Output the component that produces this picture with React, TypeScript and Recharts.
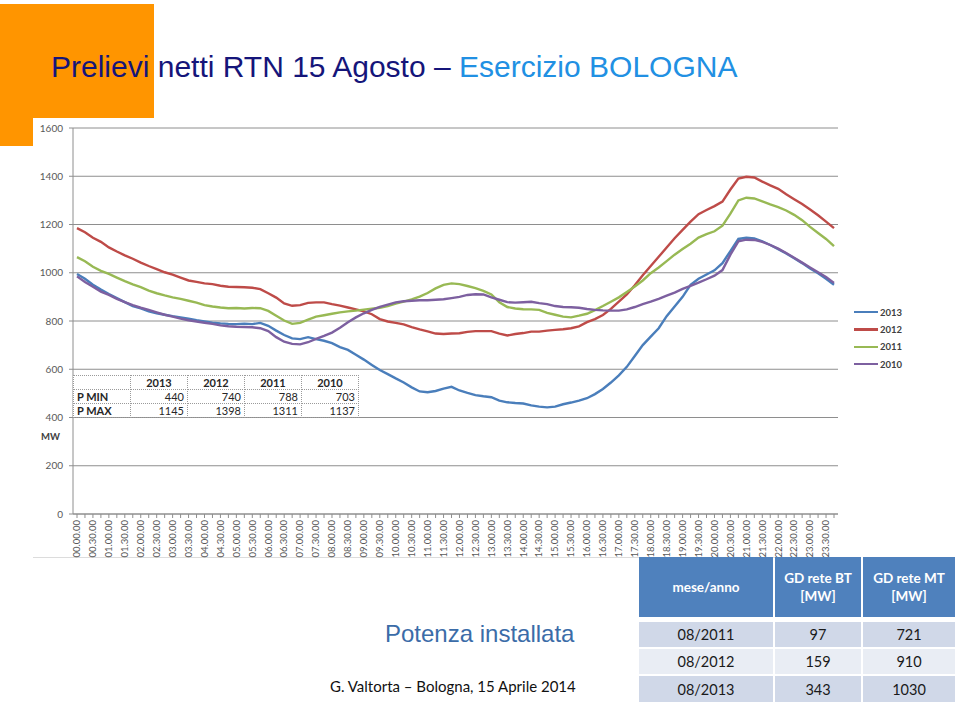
import { LineChart, Line, XAxis, YAxis, CartesianGrid } from 'recharts';

// 15-minute samples, 15 August
const TIMES = [
  '00.00.00', '00.15.00', '00.30.00', '00.45.00', '01.00.00', '01.15.00', '01.30.00', '01.45.00',
  '02.00.00', '02.15.00', '02.30.00', '02.45.00', '03.00.00', '03.15.00', '03.30.00', '03.45.00',
  '04.00.00', '04.15.00', '04.30.00', '04.45.00', '05.00.00', '05.15.00', '05.30.00', '05.45.00',
  '06.00.00', '06.15.00', '06.30.00', '06.45.00', '07.00.00', '07.15.00', '07.30.00', '07.45.00',
  '08.00.00', '08.15.00', '08.30.00', '08.45.00', '09.00.00', '09.15.00', '09.30.00', '09.45.00',
  '10.00.00', '10.15.00', '10.30.00', '10.45.00', '11.00.00', '11.15.00', '11.30.00', '11.45.00',
  '12.00.00', '12.15.00', '12.30.00', '12.45.00', '13.00.00', '13.15.00', '13.30.00', '13.45.00',
  '14.00.00', '14.15.00', '14.30.00', '14.45.00', '15.00.00', '15.15.00', '15.30.00', '15.45.00',
  '16.00.00', '16.15.00', '16.30.00', '16.45.00', '17.00.00', '17.15.00', '17.30.00', '17.45.00',
  '18.00.00', '18.15.00', '18.30.00', '18.45.00', '19.00.00', '19.15.00', '19.30.00', '19.45.00',
  '20.00.00', '20.15.00', '20.30.00', '20.45.00', '21.00.00', '21.15.00', '21.30.00', '21.45.00',
  '22.00.00', '22.15.00', '22.30.00', '22.45.00', '23.00.00', '23.15.00', '23.30.00', '23.45.00',
];

const P_2013 = [
  995, 975, 950, 930, 912, 895, 878, 862, 852, 840,
  832, 826, 820, 815, 810, 803, 798, 793, 790, 788,
  787, 789, 787, 792, 780, 760, 742, 728, 725, 733,
  725, 718, 708, 692, 680, 660, 640, 618, 597, 580,
  562, 545, 525, 508, 505, 510, 520, 527, 512, 502,
  493, 488, 484, 470, 463, 460, 458, 450, 445, 442,
  445, 455, 462, 470, 480, 497, 518, 545, 575, 610,
  655, 700, 735, 770, 820, 860, 900, 950, 975, 993,
  1010, 1040, 1090, 1140, 1145, 1142, 1130, 1115, 1098, 1080,
  1060, 1040, 1018, 998, 975, 950,
];

const P_2012 = [
  1185, 1168, 1145, 1128, 1105, 1088, 1072, 1058, 1042, 1028,
  1015, 1002, 992, 980, 968, 962, 956, 953, 946, 942,
  941, 940, 938, 932, 915, 897, 873, 863, 866, 875,
  877, 877, 870, 864, 856, 848, 840, 828, 808, 798,
  792, 786, 775, 765, 757, 748, 746, 748, 749, 755,
  758, 758, 758, 748, 740, 746, 750, 756, 756, 760,
  763, 766, 770, 778, 795, 808, 825, 850, 880, 910,
  948, 990, 1028, 1066, 1105, 1143, 1178, 1212, 1243, 1260,
  1276, 1295, 1345, 1390, 1398, 1395, 1378, 1362, 1348, 1325,
  1305, 1285, 1262, 1238, 1212, 1185,
];

const P_2011 = [
  1065, 1048, 1025, 1008, 995, 980, 965, 952, 940, 926,
  915, 906, 898, 892, 884, 876, 866, 860, 856, 853,
  854, 852, 854, 853, 842, 822, 802, 788, 792, 806,
  818, 824, 830, 836, 840, 843, 847, 851, 855, 862,
  872, 880, 890, 901, 916, 935, 950, 956, 953, 945,
  936, 925, 910, 878, 858, 852, 849, 848, 846, 834,
  826, 818, 815, 822, 830, 845, 862, 880, 898, 920,
  943, 968, 998, 1022, 1048, 1075, 1098, 1120, 1146, 1160,
  1172, 1195, 1245, 1300, 1311, 1308, 1296, 1283, 1272, 1258,
  1240, 1218, 1190, 1165, 1140, 1110,
];

const P_2010 = [
  985, 962, 942, 922, 908, 892, 878, 866, 855, 846,
  836, 826, 818, 810, 803, 798, 793, 788, 782, 778,
  776, 775, 774, 770, 758, 733, 714, 705, 703, 712,
  726, 738, 752, 772, 795, 815, 832, 846, 859, 868,
  877, 882, 884, 886, 886, 888, 890, 895, 900, 908,
  911, 910, 898, 888, 878, 876, 878, 880, 874, 870,
  862, 858, 857, 855, 850, 846, 844, 843, 843, 848,
  858, 870, 880, 892, 905, 918, 933, 946, 959, 973,
  988, 1011, 1075, 1130, 1137, 1136, 1128, 1115, 1100, 1082,
  1062, 1042, 1022, 1002, 982, 958,
];

const YEARS = ['2013', '2012', '2011', '2010'];
const SERIES = [P_2013, P_2012, P_2011, P_2010];
const COLORS = ['#4a7ebb', '#be4b48', '#98b954', '#7d60a0'];
const Y_TICKS = [0, 200, 400, 600, 800, 1000, 1200, 1400, 1600];

// min / max box inside the chart
const P_MIN = [440, 740, 788, 703];
const P_MAX = [1145, 1398, 1311, 1137];

// installed power table
const GD_PERIOD = ['08/2011', '08/2012', '08/2013'];
const GD_BT = [97, 159, 343];
const GD_MT = [721, 910, 1030];

const data = TIMES.map((t, i) => {
  const row: Record<string, string | number> = { time: t };
  YEARS.forEach((y, s) => {
    row['y' + y] = SERIES[s][i];
  });
  return row;
});

const CHART_FONT = 'Lato, "Open Sans", sans-serif';

// every category gets a tick mark, only the half hours get a label
function TimeTick({ x, y, payload, index }: any) {
  if (index % 2 !== 0) return null;
  return (
    <text
      x={x}
      y={y}
      transform={`rotate(-90 ${x} ${y})`}
      textAnchor="end"
      dy="0.35em"
      fontSize={9.5}
      fill="#595959"
      fontFamily={CHART_FONT}
    >
      {payload.value}
    </text>
  );
}

const cell: React.CSSProperties = {
  position: 'absolute',
  boxSizing: 'border-box',
  display: 'flex',
  alignItems: 'center',
};

export default function App() {
  const gdCols = [
    { left: 639, width: 134 },
    { left: 775, width: 86 },
    { left: 863, width: 92 },
  ];
  const gdRows = [
    { top: 622, height: 25, bg: '#d0d8e8' },
    { top: 649, height: 25, bg: '#e9edf4' },
    { top: 676, height: 26, bg: '#d0d8e8' },
  ];
  const boxCols = [73, 130, 187, 244, 301, 358];

  return (
    <div
      style={{
        position: 'absolute',
        left: 0,
        top: 0,
        width: 960,
        height: 708,
        background: '#fff',
        overflow: 'hidden',
        fontFamily: CHART_FONT,
      }}
    >
      {/* orange corner block */}
      <div style={{ position: 'absolute', left: 0, top: 4, width: 154, height: 142, background: '#ff9500' }} />

      <div
        style={{
          position: 'absolute',
          left: 51,
          top: 52,
          fontFamily: '"Liberation Sans", Arial, sans-serif',
          fontSize: 30,
          lineHeight: '30px',
          whiteSpace: 'nowrap',
        }}
      >
        <span style={{ color: '#15157a' }}>Prelievi netti RTN 15 Agosto – </span>
        <span style={{ color: '#2190e3' }}>Esercizio BOLOGNA</span>
      </div>

      {/* chart picture */}
      <div
        style={{
          position: 'absolute',
          left: 33,
          top: 118,
          width: 812,
          height: 440,
          background: '#fff',
          borderBottom: '1px solid #dcdcdc',
          boxSizing: 'border-box',
        }}
      >
        <LineChart width={812} height={440} data={data} margin={{ top: 10, right: 7, bottom: 0, left: 0 }}>
          <CartesianGrid vertical={false} stroke="#8e8e8e" strokeWidth={1} />
          <XAxis
            dataKey="time"
            interval={0}
            height={44}
            padding={{ left: 4, right: 4 }}
            stroke="#8e8e8e"
            tickSize={4}
            tickMargin={2}
            tick={<TimeTick />}
          />
          <YAxis
            domain={[0, 1600]}
            ticks={Y_TICKS}
            width={40}
            stroke="#8e8e8e"
            tickSize={4}
            tickMargin={6}
            tick={{ fontSize: 10, fill: '#595959', fontFamily: CHART_FONT }}
          />
          {YEARS.map((y, s) => (
            <Line
              key={y}
              type="linear"
              dataKey={'y' + y}
              stroke={COLORS[s]}
              strokeWidth={2.4}
              dot={false}
              isAnimationActive={false}
            />
          ))}
        </LineChart>
      </div>

      <div
        style={{
          position: 'absolute',
          left: 41,
          top: 431,
          fontSize: 9.5,
          fontWeight: 700,
          color: '#404040',
        }}
      >
        MW
      </div>

      {/* P MIN / P MAX box */}
      <div style={{ position: 'absolute', left: 73, top: 375, width: 285, height: 42, background: '#fff' }} />
      {['', 'P MIN', 'P MAX'].map((label, r) =>
        [label, ...YEARS].map((txt, c) => {
          const value = r === 0 ? (c === 0 ? '' : txt) : c === 0 ? label : String((r === 1 ? P_MIN : P_MAX)[c - 1]);
          return (
            <div
              key={r + '-' + c}
              style={{
                ...cell,
                left: boxCols[c],
                top: 375 + r * 14,
                width: boxCols[c + 1] - boxCols[c] + 1,
                height: 15,
                border: '1px dotted #9a9a9a',
                justifyContent: c === 0 ? 'flex-start' : r === 0 ? 'center' : 'flex-end',
                padding: '0 3px',
                fontSize: 11,
                fontWeight: r === 0 || c === 0 ? 700 : 400,
                color: '#262626',
              }}
            >
              {value}
            </div>
          );
        })
      )}

      {/* legend */}
      {YEARS.map((y, s) => (
        <div
          key={y}
          style={{
            position: 'absolute',
            left: 854,
            top: 306 + s * 17.4,
            height: 12,
            display: 'flex',
            alignItems: 'center',
            fontSize: 9.5,
            fontWeight: 700,
            color: '#404040',
          }}
        >
          <span style={{ display: 'inline-block', width: 24, height: 2.4, background: COLORS[s], marginRight: 2 }} />
          {y}
        </div>
      ))}

      <div
        style={{
          position: 'absolute',
          left: 385,
          top: 622,
          fontFamily: '"Liberation Sans", Arial, sans-serif',
          fontSize: 24,
          lineHeight: '24px',
          color: '#3b6ca8',
          whiteSpace: 'nowrap',
        }}
      >
        Potenza installata
      </div>

      <div
        style={{
          position: 'absolute',
          left: 330,
          top: 678,
          fontSize: 15,
          lineHeight: '17px',
          color: '#111',
          whiteSpace: 'nowrap',
        }}
      >
        G. Valtorta – Bologna, 15 Aprile 2014
      </div>

      {/* installed power table */}
      {[
        ['mese/anno'],
        ['GD rete BT', '[MW]'],
        ['GD rete MT', '[MW]'],
      ].map((lines, c) => (
        <div
          key={'h' + c}
          style={{
            ...cell,
            left: gdCols[c].left,
            top: 557,
            width: gdCols[c].width,
            height: 60,
            background: '#4f81bd',
            flexDirection: 'column',
            justifyContent: 'center',
            color: '#fff',
            fontSize: 13.5,
            fontWeight: 700,
            lineHeight: '18px',
            textAlign: 'center',
          }}
        >
          {lines.map((l) => (
            <span key={l}>{l}</span>
          ))}
        </div>
      ))}
      {GD_PERIOD.map((p, r) =>
        [p, String(GD_BT[r]), String(GD_MT[r])].map((txt, c) => (
          <div
            key={r + 'g' + c}
            style={{
              ...cell,
              left: gdCols[c].left,
              top: gdRows[r].top,
              width: gdCols[c].width,
              height: gdRows[r].height,
              background: gdRows[r].bg,
              justifyContent: 'center',
              fontSize: 14.5,
              color: '#1a1a1a',
            }}
          >
            {txt}
          </div>
        ))
      )}
    </div>
  );
}
